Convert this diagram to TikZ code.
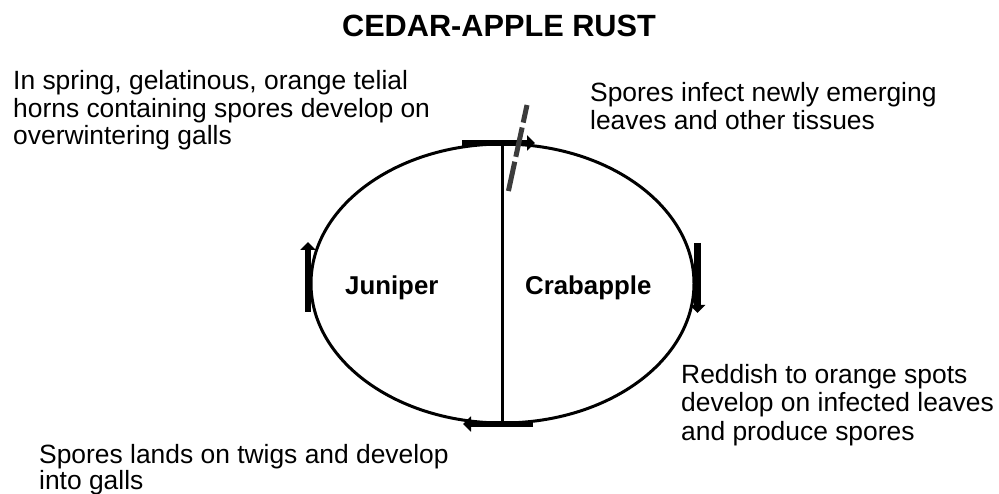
\documentclass[tikz,border=0pt]{standalone}
\usepackage{fontspec}
\setmainfont{Liberation Sans}
\usetikzlibrary{arrows.meta}
\tikzset{
  txt/.style={inner sep=0pt, anchor=base west, font=\fontsize{26.4}{28}\selectfont},
  lbl/.style={inner sep=0pt, anchor=base west, font=\fontsize{25.8}{28}\selectfont\bfseries},
  ttl/.style={inner sep=0pt, anchor=base, font=\fontsize{30.7}{33}\selectfont\bfseries},
  cyc/.style={line width=3pt, black},
  flow/.style={line width=6.5pt, black, -{Triangle[length=8pt,width=15pt]}},
  dsh/.style={line width=5pt, color={rgb,255:red,60;green,60;blue,60}, dash pattern=on 30pt off 5pt, dash phase=12pt}
}
\begin{document}
\begin{tikzpicture}[x=1pt,y=-1pt]
\useasboundingbox (0,0) rectangle (999,494);
% title
\node[ttl] (title) at (499,37) {CEDAR-APPLE RUST};
% cycle
\coordinate (c) at (502.5,283.5);
\coordinate (top) at (502,144);
\coordinate (bot) at (502,423);
\draw[cyc] (c) ellipse [x radius=191.5, y radius=139.5];
\draw[cyc] (top) -- (bot);
% arrows
\coordinate (t1) at (462,143); \coordinate (t2) at (535,143);
\coordinate (r1) at (697.5,243); \coordinate (r2) at (697.5,313);
\coordinate (b1) at (533,424); \coordinate (b2) at (463,424);
\coordinate (l1) at (308,312); \coordinate (l2) at (308,242);
\draw[flow] (t1) -- (t2);
\draw[flow] (r1) -- (r2);
\draw[flow] (b1) -- (b2);
\draw[flow] (l1) -- (l2);
% dashed barrier
\coordinate (d1) at (527,105); \coordinate (d2) at (508,193);
\draw[dsh] (d1) -- (d2);
% labels
\node[lbl] (jun) at (345,295) {Juniper};
\node[lbl] (crab) at (525,295) {Crabapple};
% texts
\node[txt] (tl1) at (13,90) {In spring, gelatinous, orange telial};
\node[txt] (tl2) at (13,117.5) {horns containing spores develop on};
\node[txt] (tl3) at (13,145) {overwintering galls};
\node[txt] (tr1) at (590,101.7) {Spores infect newly emerging};
\node[txt] (tr2) at (590,130) {leaves and other tissues};
\node[txt] (br1) at (681,383) {Reddish to orange spots};
\node[txt] (br2) at (681,411.5) {develop on infected leaves};
\node[txt] (br3) at (681,440) {and produce spores};
\node[txt] (bl1) at (39,463) {Spores lands on twigs and develop};
\node[txt] (bl2) at (39,489) {into galls};
\end{tikzpicture}
\end{document}
